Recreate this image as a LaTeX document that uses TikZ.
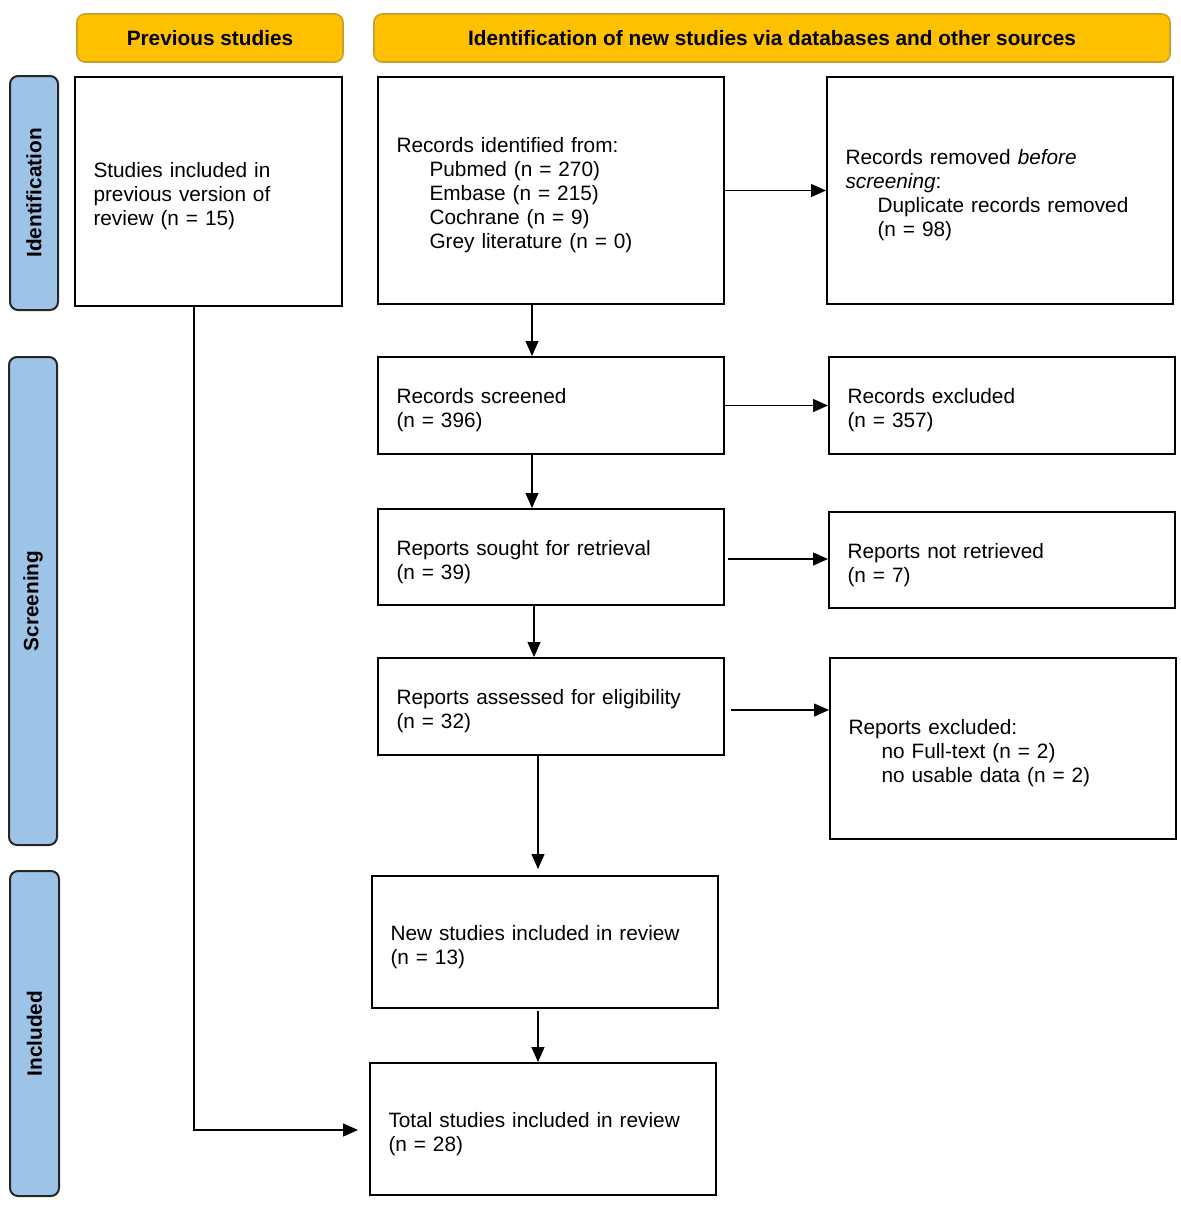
\documentclass[tikz,border=0pt]{standalone}
\usepackage{fontspec}
\setmainfont{Liberation Sans}
\usetikzlibrary{arrows.meta}
\definecolor{gold}{HTML}{FFC000}
\definecolor{goldline}{HTML}{C9A02C}
\definecolor{sideblue}{HTML}{9DC3E6}
\begin{document}
\begin{tikzpicture}[x=0.5pt,y=-0.5pt,
 box/.style={draw=black,line width=1pt,inner xsep=9.25pt,inner ysep=0pt,align=left,font=\fontsize{10.4}{12}\selectfont,execute at begin node={\rule{0pt}{12.5pt}}},
 hdr/.style={draw=goldline,fill=gold,rounded corners=4pt,line width=0.8pt,font=\fontsize{10.4}{12}\selectfont\bfseries,inner sep=0pt,minimum height=24pt},
 side/.style={draw=black!85,fill=sideblue,rounded corners=4pt,line width=1pt,inner sep=0pt,rotate=90,font=\fontsize{10.4}{12}\selectfont\bfseries},
 arr/.style={-{Triangle[length=7.5pt,width=6.5pt]},line width=0.6pt}]
\useasboundingbox (0,0) rectangle (1181,1210);

% headers
\node[hdr,minimum width=133pt] (hprev) at (210,38) {Previous studies};
\node[hdr,minimum width=398pt] (hnew) at (772,38) {Identification of new studies via databases and other sources};

% side bars
\node[side,minimum width=117pt,minimum height=24pt] (sid) at (34,193) {Identification};
\node[side,minimum width=244pt,minimum height=24pt] (sscr) at (33,601) {Screening};
\node[side,minimum width=162.5pt,minimum height=24.5pt] (sinc) at (34.5,1033.5) {Included};

% boxes
\node[box,text width=115pt,minimum height=114.5pt] (prev) at (208.5,191.5)
 {Studies included in\\previous version of\\review (n = 15)};
\node[box,text width=154.5pt,minimum height=113.5pt] (recid) at (551,190.5)
 {Records identified from:\\\hspace*{16.5pt}Pubmed (n = 270)\\\hspace*{16.5pt}Embase (n = 215)\\\hspace*{16.5pt}Cochrane (n = 9)\\\hspace*{16.5pt}Grey literature (n = 0)};
\node[box,text width=154.5pt,minimum height=113.5pt] (removed) at (1000,190.5)
 {Records removed \emph{before}\\\emph{screening}:\\\hspace*{16pt}Duplicate records removed\\\hspace*{16pt}(n = 98)};
\node[box,text width=154.5pt,minimum height=48.5pt] (screened) at (551,405.5)
 {Records screened\\(n = 396)};
\node[box,text width=154.5pt,minimum height=48.5pt] (excluded) at (1002,405.5)
 {Records excluded\\(n = 357)};
\node[box,text width=154.5pt,minimum height=48pt] (sought) at (551,557)
 {Reports sought for retrieval\\(n = 39)};
\node[box,text width=154.5pt,minimum height=48pt] (notret) at (1002,560)
 {Reports not retrieved\\(n = 7)};
\node[box,text width=154.5pt,minimum height=48.5pt] (assessed) at (551,706.5)
 {Reports assessed for eligibility\\(n = 32)};
\node[box,text width=154.5pt,minimum height=90.5pt] (repexcl) at (1003,748.5)
 {Reports excluded:\\\hspace*{16.5pt}no Full-text (n = 2)\\\hspace*{16.5pt}no usable data (n = 2)};
\node[box,text width=154.5pt,minimum height=66pt] (newst) at (545,942)
 {New studies included in review\\(n = 13)};
\node[box,text width=154.5pt,minimum height=66pt] (total) at (543,1129)
 {Total studies included in review\\(n = 28)};

% connector coordinates
\coordinate (x532) at (532,0);
\coordinate (x534) at (534,0);
\coordinate (x538) at (538,0);
\coordinate (y559) at (0,559);
\coordinate (y710) at (0,710);
\coordinate (y1130) at (0,1130);
\coordinate (bend) at (194,1130);

% connectors
\draw[arr] (recid.east) -- (removed.west);
\draw[arr] (recid.south -| x532) -- (screened.north -| x532);
\draw[arr] (screened.east) -- (excluded.west);
\draw[arr] (screened.south -| x532) -- (sought.north -| x532);
\draw[arr,shorten <=1.5pt] (sought.east |- y559) -- (notret.west |- y559);
\draw[arr] (sought.south -| x534) -- (assessed.north -| x534);
\draw[arr,shorten <=3pt] (assessed.east |- y710) -- (repexcl.west |- y710);
\draw[arr,shorten >=3pt] (assessed.south -| x538) -- (newst.north -| x538);
\draw[arr,shorten <=1pt] (newst.south -| x538) -- (total.north -| x538);
\draw[arr,shorten >=5.5pt] (prev.south -| bend) -- (bend) -- (total.west |- y1130);
\end{tikzpicture}
\end{document}
